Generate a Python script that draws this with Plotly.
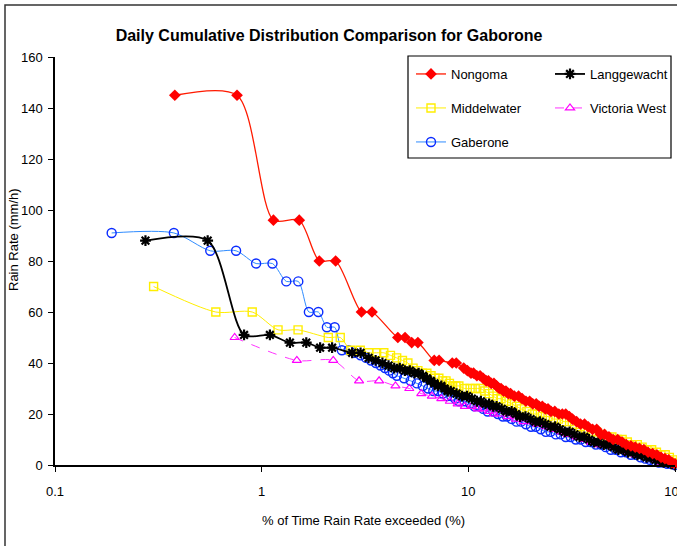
import plotly.graph_objects as go

# Daily cumulative distributions: (% of time exceeded, rain rate mm/h)
NONGOMA = [
    (0.38, 145), (0.76, 145), (1.14, 96), (1.52, 96), (1.90, 80), (2.28, 80),
    (3.04, 60), (3.42, 60), (4.56, 50), (4.94, 50), (5.32, 48), (5.70, 48),
    (6.84, 41), (7.22, 41), (8.36, 40), (8.74, 40), (9.5, 38), (9.9, 37),
    (10.3, 36), (10.6, 36), (11.0, 35), (11.4, 35), (11.8, 34), (12.2, 33),
    (12.5, 33), (12.9, 32), (13.3, 32), (13.7, 31), (14.1, 30), (14.4, 30),
    (14.8, 29), (15.2, 29), (15.6, 28), (16.0, 28), (16.7, 27), (17.5, 27),
    (18.2, 26), (19.0, 25), (19.8, 25), (20.5, 24), (21.3, 24), (22.0, 23),
    (22.8, 23), (23.6, 22), (24.3, 22), (25.1, 21), (26.2, 21), (27.4, 20),
    (28.5, 20), (29.6, 20), (30.8, 19), (31.9, 18), (33.4, 17), (34.9, 16),
    (36.5, 16), (38.0, 15), (39.9, 14), (41.8, 14), (43.7, 12), (45.6, 12),
    (47.9, 11), (50.2, 10), (52.8, 10), (55.5, 9), (58.1, 8), (61.2, 7.5),
    (64.2, 7), (67.3, 6.5), (70.7, 6), (74.1, 5), (77.9, 4.5), (81.7, 4),
    (85.6, 3), (89.4, 2.5), (93.2, 2), (96.6, 1), (100, 0.5),
]

LANGGEWACHT = [
    (0.274, 88), (0.548, 88), (0.822, 51), (1.096, 51), (1.37, 48), (1.644, 48),
    (1.918, 46), (2.192, 46), (2.74, 44), (3.01, 44), (3.29, 42), (3.56, 41),
    (3.84, 40), (4.11, 39), (4.38, 38), (4.66, 38), (4.93, 37), (5.21, 37),
    (5.48, 36), (5.75, 36), (6.03, 35), (6.30, 34), (6.58, 33), (6.85, 32),
    (7.12, 31), (7.40, 31), (7.67, 30), (7.95, 29), (8.22, 29), (8.77, 28),
    (9.32, 27), (9.86, 27), (10.4, 26), (11.0, 25), (11.5, 25), (12.1, 24),
    (12.6, 24), (13.2, 23), (13.7, 23), (14.5, 22), (15.3, 21), (16.2, 21),
    (17.0, 20), (17.8, 19), (18.9, 19), (20.0, 18), (21.1, 17), (22.2, 17),
    (23.6, 16), (25.0, 15), (26.3, 15), (27.7, 14), (29.3, 13), (30.9, 13),
    (32.6, 12), (34.5, 11), (36.4, 11), (38.4, 10), (40.5, 9), (42.7, 9),
    (45.2, 8), (47.7, 8), (50.4, 7), (53.2, 6), (56.2, 6), (59.2, 5),
    (62.5, 5), (65.8, 4), (69.3, 4), (72.9, 3), (76.7, 3), (80.5, 2),
    (84.4, 2), (88.2, 1), (92.1, 1), (96.0, 0.5), (100, 0),
]

MIDDELWATER = [
    (0.30, 70), (0.60, 60), (0.90, 60), (1.20, 53), (1.50, 53), (2.10, 50),
    (2.40, 50), (2.70, 45), (3.00, 45), (3.30, 44), (3.60, 44), (3.90, 44),
    (4.20, 43), (4.50, 42), (4.80, 41), (5.10, 40), (5.40, 38), (5.70, 37),
    (6.00, 36), (6.30, 36), (6.60, 35), (6.90, 34), (7.20, 34), (7.50, 33),
    (7.80, 33), (8.10, 32), (8.40, 31), (8.70, 31), (9.00, 31), (9.60, 30),
    (10.2, 30), (10.8, 30), (11.4, 30), (12.0, 29), (12.6, 28), (13.2, 27),
    (13.8, 26), (14.4, 26), (15.3, 25), (16.2, 24), (17.1, 23), (18.0, 22),
    (19.2, 21), (20.4, 20), (21.6, 20), (22.8, 19), (24.3, 19), (25.8, 18),
    (27.3, 18), (29.1, 17), (30.9, 17), (32.7, 16), (34.8, 15), (36.9, 14),
    (39.3, 13), (41.7, 13), (44.1, 12), (46.8, 11), (49.5, 11), (52.5, 10),
    (55.5, 10), (58.8, 9), (62.1, 8), (65.7, 8), (69.3, 7), (73.2, 6),
    (77.1, 6), (81.3, 5), (85.5, 4), (89.7, 4), (93.9, 3), (97.8, 2), (100, 1),
]

VICTORIA_WEST = [
    (0.74, 50), (1.48, 41), (2.22, 41), (2.96, 33), (3.70, 33), (4.44, 31),
    (5.18, 30), (5.92, 28), (6.66, 27), (7.40, 26), (8.14, 25), (8.88, 24),
    (9.62, 23), (10.4, 23), (11.1, 22), (11.8, 22), (12.6, 21), (13.3, 20),
    (14.1, 20), (15.5, 19), (17.0, 18), (18.5, 17), (20.0, 17), (21.5, 16),
    (23.7, 15), (25.9, 14), (28.1, 13), (30.3, 12), (33.3, 11), (36.3, 10),
    (39.2, 9), (42.9, 8), (46.6, 8), (50.3, 7), (54.8, 6), (59.2, 5),
    (64.4, 4), (69.6, 4), (74.7, 3), (80.7, 2), (86.6, 1), (93.3, 1), (100, 0),
]

GABERONE = [
    (0.188, 91), (0.376, 91), (0.564, 84), (0.752, 84), (0.94, 79), (1.128, 79),
    (1.316, 72), (1.504, 72), (1.692, 60), (1.88, 60), (2.068, 54), (2.256, 54),
    (2.444, 45), (2.632, 45), (2.82, 44), (3.01, 43), (3.20, 42), (3.38, 41),
    (3.57, 40), (3.76, 39), (3.95, 38), (4.14, 37), (4.32, 36), (4.51, 35),
    (4.89, 34), (5.26, 33), (5.64, 32), (6.02, 31), (6.39, 30), (6.77, 29),
    (7.14, 29), (7.52, 28), (7.90, 27), (8.27, 27), (8.65, 26), (9.02, 25),
    (9.59, 25), (10.2, 24), (10.7, 23), (11.3, 23), (11.8, 22), (12.4, 21),
    (13.2, 21), (13.9, 20), (14.7, 19), (15.4, 19), (16.2, 18), (17.1, 17),
    (18.0, 17), (19.0, 16), (20.1, 15), (21.2, 15), (22.4, 14), (23.7, 13),
    (25.0, 13), (26.5, 12), (28.0, 12), (29.6, 11), (31.3, 11), (33.1, 10),
    (35.0, 10), (37.0, 9), (39.1, 9), (41.4, 8), (43.8, 8), (46.2, 7),
    (48.9, 6), (51.7, 6), (54.7, 5), (57.9, 5), (61.1, 4), (64.5, 4),
    (68.1, 3), (71.8, 2.5), (75.6, 2), (79.5, 1.5), (83.5, 1), (87.6, 1),
    (91.7, 0.5), (95.9, 0.5), (100, 0),
]

X_TICKS = [0.1, 1, 10, 100]
X_TICK_TEXT = ["0.1", "1", "10", "100"]

NARROW = "Liberation Sans Narrow, Arial Narrow, Liberation Sans, Arial, sans-serif"

W, H = 677, 546
ML, MR, MT, MB = 55, 2, 57, 81
PW, PH = W - ML - MR, H - MT - MB


def px_x(px):
    return (px - ML) / PW


def px_y(py):
    return (H - MB - py) / PH


# name, data, marker symbol, marker colour, marker size, marker line width,
# line colour, line width, dash, legend id, legend anchor (px)
SERIES = [
    ("Gaberone", GABERONE, "circle-open", "#0a2cff", 9, 1.4, "#2f8cff", 1.0, "solid", "legend5", (411, 142)),
    ("Victoria West", VICTORIA_WEST, "triangle-up-open", "#ff00ff", 8, 1.2, "#ff33ff", 1.0, "dash", "legend4", (550, 108)),
    ("Middelwater", MIDDELWATER, "square-open", "#ffee00", 8, 1.4, "#ffee00", 1.0, "solid", "legend3", (411, 108)),
    ("Langgewacht", LANGGEWACHT, "asterisk-open", "#000000", 9, 2.2, "#000000", 1.8, "solid", "legend2", (550, 74)),
    ("Nongoma", NONGOMA, "diamond", "#ff0000", 9, 0, "#ff1a00", 1.3, "solid", "legend", (411, 74)),
]

fig = go.Figure()
legend_layouts = {}
for name, data, sym, mcol, msize, mlw, lcol, lw, dash, leg, (lx, ly) in SERIES:
    xs, ys = zip(*data)
    fig.add_trace(go.Scatter(
        x=list(xs), y=list(ys), name=name, mode="lines+markers",
        line=dict(color=lcol, width=lw, shape="spline", smoothing=0.8, dash=dash),
        marker=dict(symbol=sym, size=msize, color=mcol, line=dict(color=mcol, width=mlw)),
        cliponaxis=False, legend=leg,
    ))
    legend_layouts[leg] = dict(
        x=px_x(lx), y=px_y(ly), xanchor="left", yanchor="middle",
        bgcolor="rgba(0,0,0,0)", borderwidth=0, itemwidth=30,
        font=dict(family=NARROW, size=13, color="#000000"),
    )

fig.update_layout(
    width=W, height=H,
    margin=dict(l=ML, r=MR, t=MT, b=MB, autoexpand=False),
    paper_bgcolor="white", plot_bgcolor="white",
    showlegend=True,
    title=dict(
        text="<b>Daily Cumulative Distribution Comparison for Gaborone</b>",
        x=329 / W, xanchor="center", y=1 - 35 / H, yanchor="middle",
        font=dict(family=NARROW, size=16, color="#000000"),
    ),
    xaxis=dict(
        type="log", range=[-1, 2], tickvals=X_TICKS, ticktext=X_TICK_TEXT,
        ticks="outside", ticklen=5, tickwidth=1, tickcolor="black",
        showline=True, linecolor="black", linewidth=1.5,
        showgrid=False, zeroline=False, ticklabelstandoff=9,
        ticklabeloverflow="allow", automargin=False,
        tickfont=dict(family=NARROW, size=13, color="#000000"),
    ),
    yaxis=dict(
        range=[0, 160], dtick=20, tick0=0,
        ticks="outside", ticklen=5, tickwidth=1, tickcolor="black",
        showline=True, linecolor="black", linewidth=1.5,
        showgrid=False, zeroline=False, ticklabelstandoff=3, automargin=False,
        tickfont=dict(family=NARROW, size=13, color="#000000"),
    ),
    annotations=[
        dict(text="% of Time Rain Rate exceeded (%)", xref="paper", yref="paper",
             x=px_x(363), y=px_y(520), xanchor="center", yanchor="middle",
             showarrow=False, font=dict(family=NARROW, size=13, color="#000000")),
        dict(text="Rain Rate (mm/h)", xref="paper", yref="paper",
             x=px_x(14), y=px_y(240), xanchor="center", yanchor="middle",
             textangle=-90, showarrow=False,
             font=dict(family="Liberation Sans, Arial, sans-serif", size=13, color="#000000")),
    ],
    shapes=[
        # legend frame
        dict(type="rect", xref="paper", yref="paper",
             x0=px_x(408), x1=px_x(671), y0=px_y(158), y1=px_y(56),
             line=dict(color="black", width=1.2), fillcolor="rgba(0,0,0,0)", layer="above"),
        # outer chart frame
        dict(type="rect", xref="paper", yref="paper",
             x0=px_x(5), x1=px_x(700), y0=px_y(560), y1=px_y(5),
             line=dict(color="#333333", width=1.5), fillcolor="rgba(0,0,0,0)", layer="below"),
    ],
    **legend_layouts,
)

fig.write_html("out.html")
